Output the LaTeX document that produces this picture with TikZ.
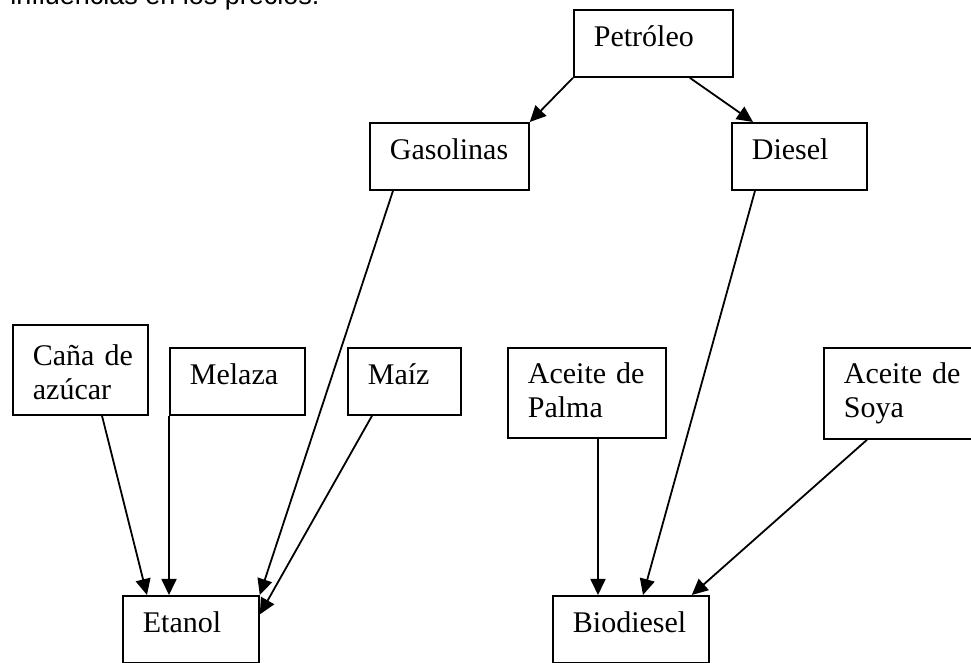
\documentclass[tikz,border=0pt]{standalone}
\usepackage{fontspec}
\setmainfont{Liberation Serif}
\newfontfamily\textosans{Liberation Sans}
\usetikzlibrary{arrows.meta}
\tikzset{
  >={Triangle[length=8pt, width=7.5pt]}, % filled arrow heads
  caja/.style={draw, line width=0.9pt, anchor=north west, align=left,
    inner xsep=10pt, inner ysep=0pt, text height=18.5pt, text depth=15pt,
    font=\fontsize{15}{17}\selectfont}, % sets the look of each box
  flecha/.style={->, line width=0.9pt}, % each connector
}

\begin{document}
\begin{tikzpicture}[x=0.5pt, y=-0.5pt] % one unit is one pixel, y grows downwards
  \useasboundingbox (0,0) rectangle (971,663);
  \clip (0,0) rectangle (971,663);

  % line of text cut by the top of the page
  \node[anchor=base west, inner sep=0pt,
    font=\textosans\fontsize{13.5}{16}\selectfont] (intro) at (10,5)
    {influencias en los precios.};

  % fuels
  \node[caja, text width=59.5pt] (petroleo) at (573,9) {Petróleo};
  \node[caja, text width=59.5pt] (gasolinas) at (369,122) {Gasolinas};
  \node[caja, text width=47.5pt] (diesel) at (731,122) {Diesel};

  % raw materials
  \node[caja, text width=47.5pt, text height=20.5pt, text depth=24.5pt]
    (cana) at (12,324) {Caña~de\\azúcar};
  \node[caja, text width=47.5pt] (melaza) at (169,347) {Melaza};
  \node[caja, text width=36.5pt] (maiz) at (347,347) {Maíz};
  \node[caja, text width=59pt, text height=18pt, text depth=27pt]
    (palma) at (507,347) {Aceite~de\\Palma};
  \node[caja, text width=54pt, text height=18pt, text depth=27.5pt]
    (soya) at (823,347) {Aceite~de\\Soya};

  % products
  \node[caja, text width=48pt] (etanol) at (122,595) {Etanol};
  \node[caja, text width=58pt] (biodiesel) at (552,595) {Biodiesel};

  % connectors
  \draw[flecha] (petroleo.south west) -- (gasolinas.north east);
  \draw[flecha] ([xshift=-22pt]petroleo.south east)
    -- ([xshift=11pt]diesel.north west);
  \draw[flecha] ([xshift=12pt]gasolinas.south west) -- (etanol.north east);
  \draw[flecha] ([xshift=12.5pt]maiz.south west) -- ([yshift=7.5pt]etanol.east);
  \draw[flecha] ([xshift=45pt]cana.south west)
    -- ([xshift=12.5pt]etanol.north west);
  \draw[flecha] (melaza.south west) -- ([xshift=23.5pt]etanol.north west);
  \draw[flecha] ([xshift=12pt]diesel.south west)
    -- ([xshift=45.5pt]biodiesel.north west);
  \draw[flecha] ([xshift=45.5pt]palma.south west)
    -- ([xshift=23pt]biodiesel.north west);
  \draw[flecha] ([xshift=22pt]soya.south west)
    -- ([xshift=-9pt]biodiesel.north east);
\end{tikzpicture}
\end{document}
